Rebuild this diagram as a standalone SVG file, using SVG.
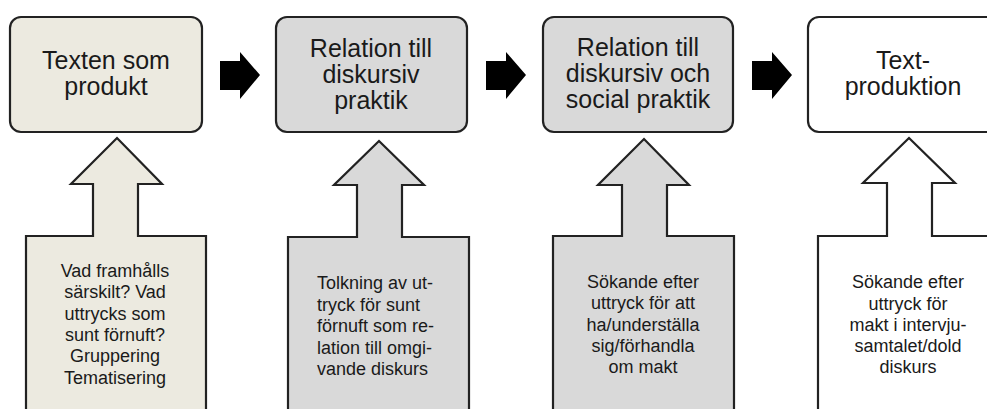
<svg xmlns="http://www.w3.org/2000/svg" width="987" height="409" viewBox="0 0 987 409">
<defs>
<style>
.box{stroke:#222;stroke-width:2.2}
.beige{fill:#ECEAE0}
.gray{fill:#D9D9D9}
.white{fill:#FFFFFF}
.title{font-family:"Liberation Sans",Arial,sans-serif;font-size:25px;fill:#1a1a1a;text-anchor:middle}
.body{font-family:"Liberation Sans",Arial,sans-serif;font-size:18px;fill:#1a1a1a;text-anchor:middle}
.left{text-anchor:start}
.arrow{fill:#000}
</style>
</defs>
<rect width="987" height="409" fill="#fff"/>
<g id="node1">
<rect class="box beige" x="10" y="17" width="192" height="115" rx="11"/>
<text class="title" x="106"><tspan x="106" y="69">Texten som</tspan><tspan x="106" y="95">produkt</tspan></text>
</g>
<g id="node2">
<rect class="box gray" x="276" y="17" width="191" height="115" rx="11"/>
<text class="title"><tspan x="371" y="57">Relation till</tspan><tspan x="371" y="83">diskursiv</tspan><tspan x="371" y="109">praktik</tspan></text>
</g>
<g id="node3">
<rect class="box gray" x="543" y="17" width="190" height="115" rx="11"/>
<text class="title"><tspan x="638" y="56">Relation till</tspan><tspan x="638" y="82">diskursiv och</tspan><tspan x="638" y="108">social praktik</tspan></text>
</g>
<g id="node4">
<rect class="box white" x="808" y="17" width="200" height="115" rx="11"/>
<text class="title"><tspan x="903" y="69">Text-</tspan><tspan x="903" y="95">produktion</tspan></text>
</g>
<g id="callout1">
<path class="box beige" d="M26,420 V236 H93 V184 H71 L117,138 L162,184 H138 V236 H206 V420"/>
<text class="body"><tspan x="115" y="277">Vad framhålls</tspan><tspan x="115" y="298">särskilt? Vad</tspan><tspan x="115" y="320">uttrycks som</tspan><tspan x="115" y="341">sunt förnuft?</tspan><tspan x="115" y="362">Gruppering</tspan><tspan x="115" y="384">Tematisering</tspan></text>
</g>
<g id="callout2">
<path class="box gray" d="M288,420 V237 H357 V185 H334 L379,141 L424,185 H402 V237 H469 V420"/>
<text class="body left"><tspan x="317" y="289">Tolkning av ut-</tspan><tspan x="317" y="311">tryck för sunt</tspan><tspan x="317" y="332">förnuft som re-</tspan><tspan x="317" y="354">lation till omgi-</tspan><tspan x="317" y="375">vande diskurs</tspan></text>
</g>
<g id="callout3">
<path class="box gray" d="M553,420 V236 H622 V185 H598 L644,139 L689,185 H667 V236 H734 V420"/>
<text class="body"><tspan x="643" y="288">Sökande efter</tspan><tspan x="643" y="309">uttryck för att</tspan><tspan x="643" y="331">ha/underställa</tspan><tspan x="643" y="352">sig/förhandla</tspan><tspan x="643" y="373">om makt</tspan></text>
</g>
<g id="callout4">
<path class="box white" d="M818,420 V236 H887 V183 H863 L909,138 L955,183 H932 V236 H1010 V420"/>
<text class="body"><tspan x="908" y="288">Sökande efter</tspan><tspan x="908" y="310">uttryck för</tspan><tspan x="908" y="331">makt i intervju-</tspan><tspan x="908" y="352">samtalet/dold</tspan><tspan x="908" y="373">diskurs</tspan></text>
</g>
<g id="connectors">
<path class="arrow" d="M220,61 H240 V52 L260,75 L240,99 V90 H220 Z"/>
<path class="arrow" d="M486,61 H506 V52 L526,75 L506,99 V90 H486 Z"/>
<path class="arrow" d="M752,61 H772 V52 L792,75 L772,99 V90 H752 Z"/>
</g>
</svg>
